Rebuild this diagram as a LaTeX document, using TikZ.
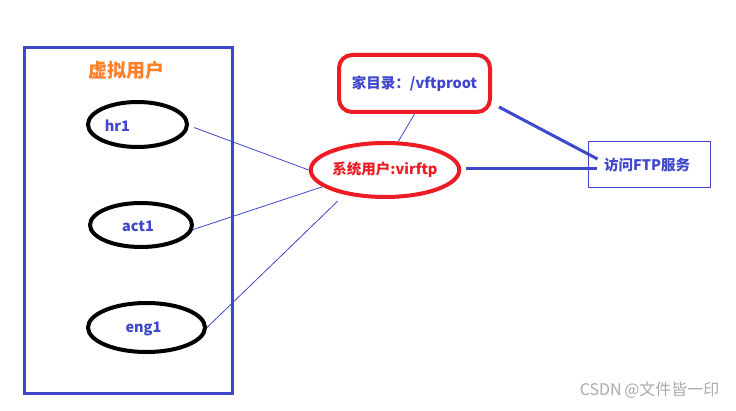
\documentclass[tikz,border=0pt]{standalone}
\usepackage{fontspec}
\setmainfont{Noto Sans CJK SC}
\usetikzlibrary{shapes.geometric,calc}
\definecolor{vublue}{RGB}{63,72,204}
\definecolor{vured}{RGB}{237,28,36}
\definecolor{vuorange}{RGB}{255,127,39}
\definecolor{wmgray}{RGB}{170,170,170}

\begin{document}
\begin{tikzpicture}[x=1pt,y=-1pt,font=\fontsize{14.5}{16}\selectfont\bfseries,
  userell/.style={ellipse,draw=black,line width=4pt,inner sep=0pt},
  thinlink/.style={draw=vublue,line width=0.8pt},
  thicklink/.style={draw=vublue,line width=3pt}]
\useasboundingbox[fill=white] (0,0) rectangle (736,411);
\node[draw=vublue,line width=3pt,minimum width=208pt,minimum height=345pt,inner sep=0pt] (vbox) at (128,220.5) {};
\node[text=vuorange,font=\fontsize{19}{21}\selectfont\bfseries] (vtitle) at (126,70) {虚拟用户};
\foreach \nm/\pos/\w/\h/\dx in {hr1/{137.5,124.5}/99/45/-20, act1/{141,225}/102/44/-3, eng1/{146.5,327.5}/117/49/-3}{
  \node[userell,minimum width=\w pt,minimum height=\h pt,
    label={[text=vublue,xshift=\dx pt,yshift=-1pt]center:\nm}] (\nm) at (\pos) {};
}
\node[draw=vured,line width=4pt,rounded corners=13pt,minimum width=151pt,minimum height=57pt,
  text=vublue] (home) at (414.5,83.5) {家目录：/vftproot};
\node[ellipse,draw=vured,line width=4pt,minimum width=144pt,minimum height=54pt,inner sep=0pt,
  text=vured] (sys) at (385,170) {系统用户:virftp};
\node[draw=vublue,line width=1pt,minimum width=122pt,minimum height=46pt,inner sep=0pt,
  text=vublue] (ftp) at (649,165) {\hspace*{-4pt}访问FTP服务};
\node[anchor=east,text=wmgray,font=\fontsize{16}{18}\selectfont] (wm) at (723,390) {CSDN\,@文件皆一印};
\draw[thinlink] ($(hr1.east)+(5,3)$) -- (sys.west);
\draw[thinlink] (act1.-5) -- (sys.195);
\draw[thinlink] (eng1.east) -- ($(sys.214)+(-10,6)$);
\draw[thinlink] (home.south) -- (sys.65);
\draw[thicklink] (sys.east) ++(5,-1) -- ($(ftp.west)+(9,4)$);
\draw[thicklink] ($(home.south east)+(7,-7)$) -- ($(ftp.west)+(10,-6)$);
\end{tikzpicture}
\end{document}
